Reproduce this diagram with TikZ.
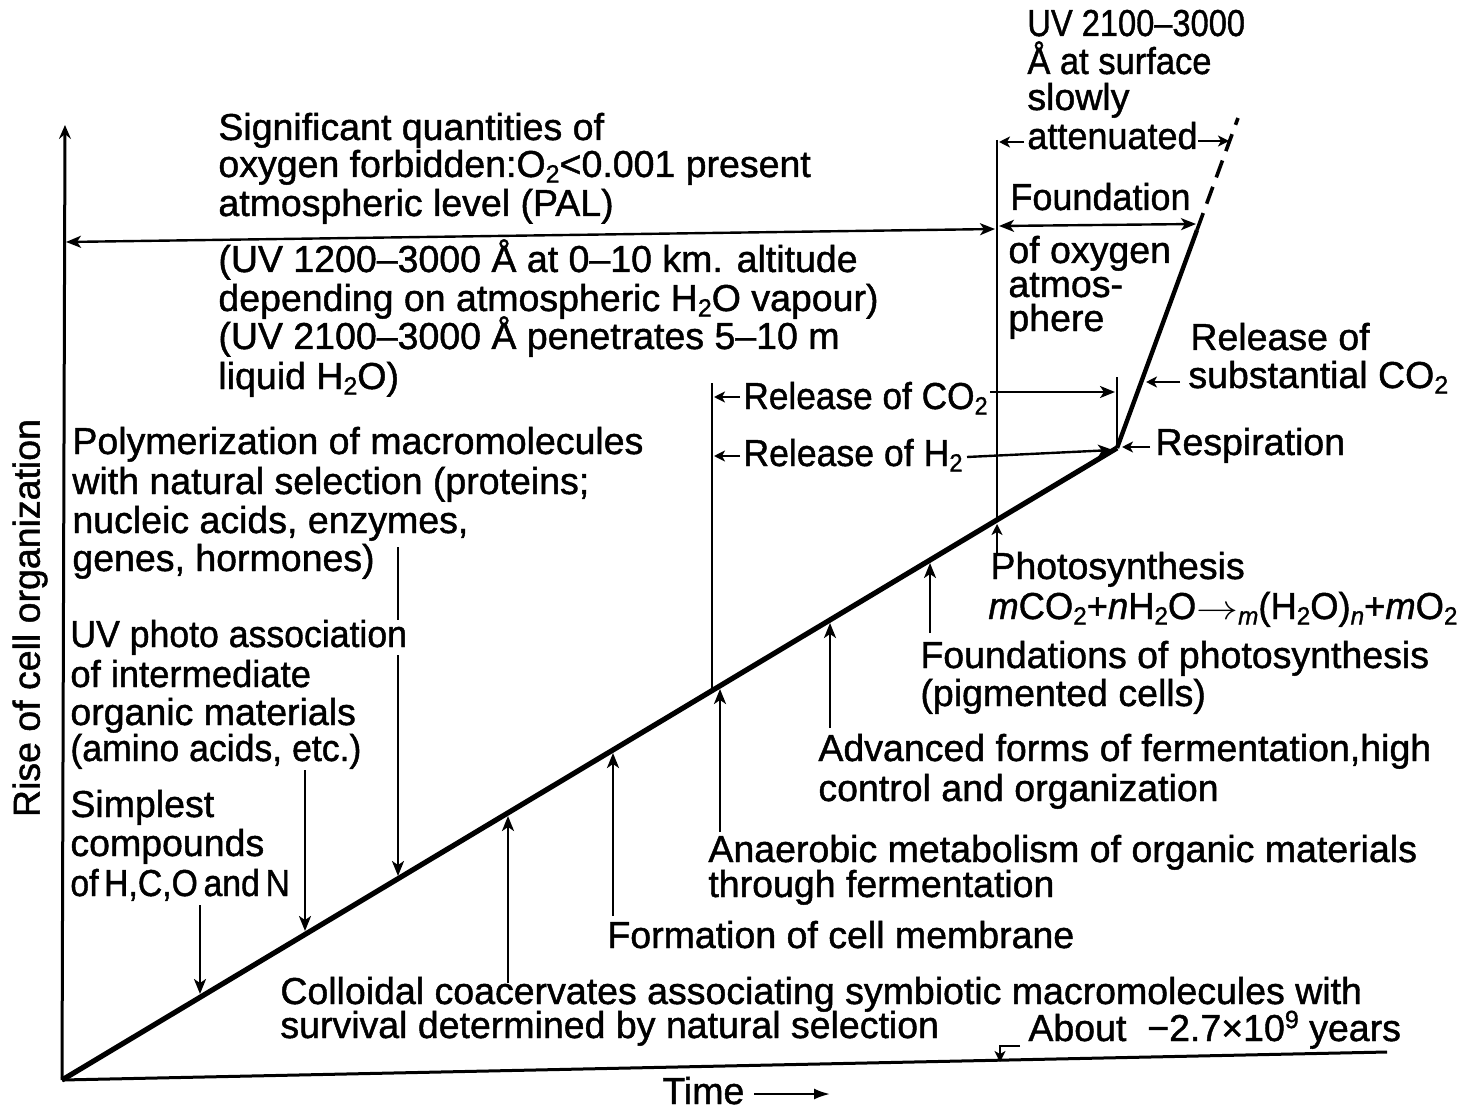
\documentclass[tikz,border=0pt]{standalone}
\usepackage{fontspec}
\setmainfont[FakeBold=1.2]{Liberation Sans}
\usetikzlibrary{arrows.meta,calc}
\newcommand\ssub[1]{\raisebox{-0.28ex}{\fontsize{12.5}{12.5}\selectfont #1}}
\newcommand\ssup[1]{\raisebox{0.65ex}{\fontsize{12.5}{12.5}\selectfont #1}}
\begin{document}
\begin{tikzpicture}[x=0.5pt,y=-0.5pt,
  lbl/.style={font=\fontsize{18.75}{20}\selectfont, inner sep=0pt, anchor=base west},
  thinln/.style={line width=1.2pt},
  arr/.style={line width=1.2pt,-{Stealth[length=7.5pt,width=6pt,inset=2pt]}},
  darr/.style={line width=1.2pt,{Stealth[length=7.5pt,width=6pt,inset=2pt]}-{Stealth[length=7.5pt,width=6pt,inset=2pt]}},
  sarr/.style={line width=1.2pt,-{Stealth[length=5.5pt,width=5.5pt,inset=1.5pt]}},
  mainln/.style={line width=2.6pt,line join=round},
]
\useasboundingbox (0,0) rectangle (1470,1112);

% ---- axes and main curve
\coordinate (O) at (62,1080);
\coordinate (R) at (1117,448);
\coordinate (K) at (1197,230);
\coordinate (T) at (1238,118);
\coordinate (YT) at (65,125);
\coordinate (XE) at (1387,1052);
\draw[line width=1.5pt,-{Stealth[length=7pt,width=6pt,inset=2.5pt]}] (O) -- (YT);
\draw[line width=1.5pt] (O) -- (XE);
\draw[mainln] (O) -- (R);
\draw[line width=2.2pt,line join=round] (R) -- (K);
\draw[line width=1.8pt,dash pattern=on 9pt off 5pt] (K) -- (T);

% ---- vertical guide lines
\coordinate (v7t) at (712,383);  \coordinate (v7b) at (712,690);
\coordinate (v9t) at (997,140);  \coordinate (v9b) at (997,520);
\coordinate (tkt) at (1117,377);
\draw[thinln] (v7t) -- (v7b);
\draw[thinln] (v9t) -- (v9b);
\draw[thinln] (tkt) -- (R);

% ---- horizontal brackets
\coordinate (bA) at (66,242);  \coordinate (bB) at (995,229);
\draw[darr] (bA) -- (bB);
\coordinate (fA) at (999,226); \coordinate (fB) at (1196,224);
\draw[darr] (fA) -- (fB);
\coordinate (atL0) at (1024,142); \coordinate (atL1) at (999,142);
\draw[sarr] (atL0) -- (atL1);
\coordinate (atR0) at (1198,141); \coordinate (atR1) at (1229,141);
\draw[sarr] (atR0) -- (atR1);

% release arrows
\coordinate (rc0) at (740,397); \coordinate (rc1) at (714,397);
\draw[sarr] (rc0) -- (rc1);
\coordinate (rc2) at (990,392); \coordinate (rc3) at (1115,392);
\draw[arr] (rc2) -- (rc3);
\coordinate (rh0) at (740,456); \coordinate (rh1) at (714,456);
\draw[sarr] (rh0) -- (rh1);
\coordinate (rh2) at (967,457); \coordinate (rh3) at (1113,450);
\draw[arr] (rh2) -- (rh3);
\coordinate (rp0) at (1150,447); \coordinate (rp1) at (1122,447);
\draw[sarr] (rp0) -- (rp1);
\coordinate (ss0) at (1180,382); \coordinate (ss1) at (1146,382);
\draw[sarr] (ss0) -- (ss1);

% ---- arrows onto the main line
\coordinate (a1s) at (200,905); \coordinate (a1e) at (200,994);
\coordinate (a2s) at (305,770); \coordinate (a2e) at (305,931);
\coordinate (a3s) at (398,547); \coordinate (a3e) at (398,876);
\draw[arr] (a1s) -- (a1e);
\draw[arr] (a2s) -- (a2e);
\draw[arr] (a3s) -- (a3e);
\coordinate (b1s) at (508,983); \coordinate (b1e) at (508,816);
\coordinate (b2s) at (613,916); \coordinate (b2e) at (613,753);
\coordinate (b3s) at (720,832); \coordinate (b3e) at (720,689);
\coordinate (b4s) at (830,728); \coordinate (b4e) at (830,623);
\coordinate (b5s) at (930,633); \coordinate (b5e) at (930,563);
\coordinate (b6s) at (997,556); \coordinate (b6e) at (997,524);
\draw[arr] (b1s) -- (b1e);
\draw[arr] (b2s) -- (b2e);
\draw[arr] (b3s) -- (b3e);
\draw[arr] (b4s) -- (b4e);
\draw[arr] (b5s) -- (b5e);
\draw[sarr] (b6s) -- (b6e);

% about hook
\coordinate (h0) at (1020,1046); \coordinate (h1) at (1000,1046); \coordinate (h2) at (1000,1062);
\draw[sarr] (h0) -- (h1) -- (h2);

% ---- texts
\node[lbl] (sq1) at (218,140) {Significant quantities of};
\node[lbl] (sq2) at (218,177) {oxygen forbidden:O\ssub{2}<0.001 present};
\node[lbl] (sq3) at (218,216) {atmospheric level (PAL)};
\node[lbl] (uv1) at (218,272) {(UV 1200–3000 Å at 0–10 km. altitude};
\node[lbl] (uv2) at (218,311) {depending on atmospheric H\ssub{2}O vapour)};
\node[lbl] (uv3) at (218,349) {(UV 2100–3000 Å penetrates 5–10 m};
\node[lbl] (uv4) at (218,389) {liquid H\ssub{2}O)};

\node[lbl] (s1) at (1027,36) {\scalebox{0.87}[1]{UV 2100–3000}};
\node[lbl] (s2) at (1027,74) {\scalebox{0.92}[1]{Å at surface}};
\node[lbl] (s3) at (1027,110) {slowly};
\node[lbl] (s4) at (1027,149) {\scalebox{0.96}[1]{attenuated}};
\node[lbl] (fd) at (1010,210) {\scalebox{0.96}[1]{Foundation}};
\node[lbl] (fo1) at (1008,263) {of oxygen};
\node[lbl] (fo2) at (1008,297) {atmos-};
\node[lbl] (fo3) at (1008,331) {phere};
\node[lbl] (rs1) at (1190,350) {Release of};
\node[lbl] (rs2) at (1188,388) {substantial CO\ssub{2}};
\node[lbl] (resp) at (1155,455) {Respiration};
\node[lbl] (rco2) at (743,409) {\scalebox{0.94}[1]{Release of CO\ssub{2}}};
\node[lbl] (rhh) at (743,466) {\scalebox{0.95}[1]{Release of H\ssub{2}}};

\node[lbl] (ph) at (990,579) {Photosynthesis};
\node[lbl] (eq) at (988,619) {\scalebox{0.97}[1]{\textit{m}CO\ssub{2}+\textit{n}H\ssub{2}O\scalebox{1.25}[1]{$\rightarrow$}\ssub{\textit{m}}(H\ssub{2}O)\ssub{\textit{n}}+\textit{m}O\ssub{2}}};
\node[lbl] (fp1) at (920,668) {Foundations of photosynthesis};
\node[lbl] (fp2) at (920,706) {(pigmented cells)};
\node[lbl] (af1) at (818,761) {Advanced forms of fermentation,high};
\node[lbl] (af2) at (818,801) {control and organization};
\node[lbl] (an1) at (708,862) {Anaerobic metabolism of organic materials};
\node[lbl] (an2) at (708,897) {through fermentation};
\node[lbl] (fm) at (607,948) {Formation of cell membrane};
\node[lbl] (cc1) at (280,1004) {Colloidal coacervates associating symbiotic macromolecules with};
\node[lbl] (cc2) at (280,1038) {survival determined by natural selection};
\node[lbl] (ab) at (1028,1041) {About\ \ −2.7×10\ssup{9} years};

\node[lbl] (po1) at (72,454) {Polymerization of macromolecules};
\node[lbl] (po2) at (72,494) {with natural selection (proteins;};
\node[lbl] (po3) at (72,533) {nucleic acids, enzymes,};
\node[lbl] (po4) at (72,571) {genes, hormones)};
\node[lbl,fill=white] (uvp1) at (70,647) {\scalebox{0.95}[1]{UV photo association}};
\node[lbl] (uvp2) at (70,687) {\scalebox{0.97}[1]{of intermediate}};
\node[lbl] (uvp3) at (70,725) {organic materials};
\node[lbl] (uvp4) at (70,761) {\scalebox{0.95}[1]{(amino acids, etc.)}};
\node[lbl] (sc1) at (70,817) {Simplest};
\node[lbl] (sc2) at (70,856) {compounds};
\node[lbl] (sc3) at (70,896) {\scalebox{0.9}[1]{of\,H,C,O\,and\,N}};

\node[font=\fontsize{18.75}{20}\selectfont, inner sep=0pt, rotate=90] (ylab) at (30,618) {Rise of cell organization};
\node[lbl] (time) at (662,1104) {Time};
\coordinate (ta0) at (754,1094); \coordinate (ta1) at (830,1094);
\draw[line width=1.1pt,-{Latex[length=8pt,width=5.5pt]}] (ta0) -- (ta1);
\end{tikzpicture}
\end{document}
